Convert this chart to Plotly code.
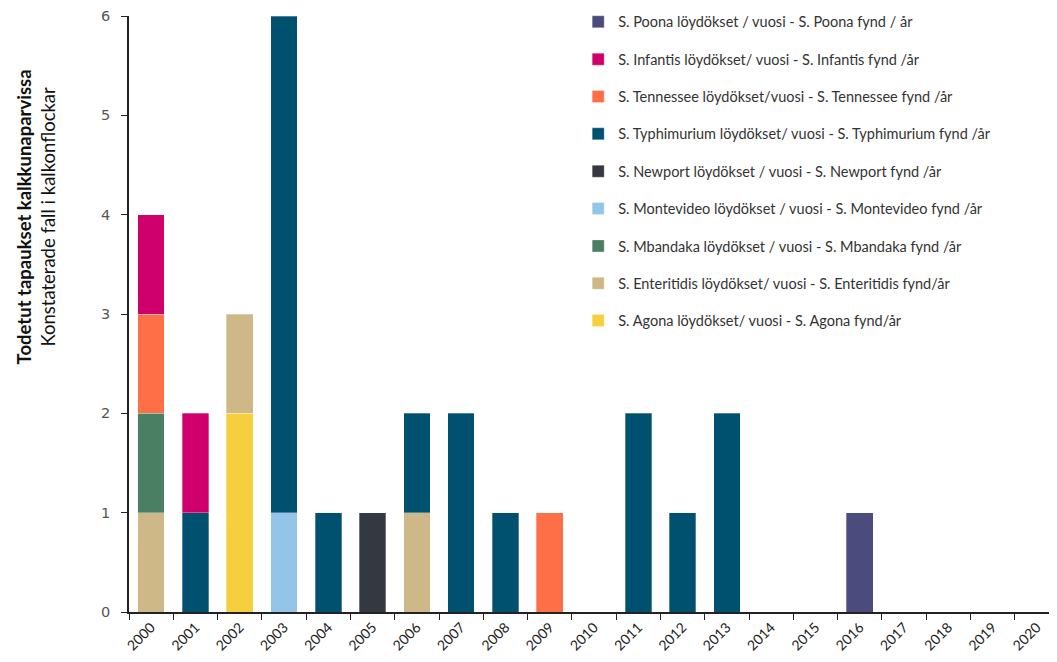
import plotly.graph_objects as go

years = [str(y) for y in range(2000, 2021)]

# values per serovar, years 2000..2020
agona       = [0,0,2,0,0,0,0,0,0,0,0,0,0,0,0,0,0,0,0,0,0]
enteritidis = [1,0,1,0,0,0,1,0,0,0,0,0,0,0,0,0,0,0,0,0,0]
mbandaka    = [1,0,0,0,0,0,0,0,0,0,0,0,0,0,0,0,0,0,0,0,0]
montevideo  = [0,0,0,1,0,0,0,0,0,0,0,0,0,0,0,0,0,0,0,0,0]
newport     = [0,0,0,0,0,1,0,0,0,0,0,0,0,0,0,0,0,0,0,0,0]
typhimurium = [0,1,0,5,1,0,1,2,1,0,0,2,1,2,0,0,0,0,0,0,0]
tennessee   = [1,0,0,0,0,0,0,0,0,1,0,0,0,0,0,0,0,0,0,0,0]
infantis    = [1,1,0,0,0,0,0,0,0,0,0,0,0,0,0,0,0,0,0,0,0]
poona       = [0,0,0,0,0,0,0,0,0,0,0,0,0,0,0,0,1,0,0,0,0]

names = [
    "S. Agona löydökset/ vuosi - S. Agona fynd/år",
    "S. Enteritidis löydökset/ vuosi - S. Enteritidis fynd/år",
    "S. Mbandaka löydökset / vuosi - S. Mbandaka fynd /år",
    "S. Montevideo löydökset / vuosi - S. Montevideo fynd /år",
    "S. Newport löydökset / vuosi - S. Newport fynd /år",
    "S. Typhimurium löydökset/ vuosi - S. Typhimurium fynd /år",
    "S. Tennessee löydökset/vuosi - S. Tennessee fynd /år",
    "S. Infantis löydökset/ vuosi - S. Infantis fynd /år",
    "S. Poona löydökset / vuosi - S. Poona fynd / år",
]
series = [agona, enteritidis, mbandaka, montevideo, newport, typhimurium, tennessee, infantis, poona]
colors = ["#F6CE3E", "#CFB887", "#4B7F63", "#93C5E8", "#343840", "#00506F", "#FF6F47", "#CF006B", "#4B4B7E"]

fig = go.Figure()
n = len(series)
for i, (nm, vals, col) in enumerate(zip(names, series, colors)):
    fig.add_trace(go.Bar(
        x=years, y=[v if v else None for v in vals], name=nm,
        marker=dict(color=col, line=dict(color="rgba(255,255,255,0.6)", width=0.5)),
        legendgroup=str(i), legendrank=1000 + (n - i),
    ))

fig.update_layout(
    barmode="stack",
    bargap=0.4,
    width=1057, height=662,
    margin=dict(l=121, r=6, t=8, b=58, autoexpand=False),
    plot_bgcolor="white", paper_bgcolor="white",
    font=dict(family="Lato", color="#222"),
    legend=dict(
        x=0.483, y=1.017, xanchor="left", yanchor="top",
        traceorder="grouped", tracegroupgap=15.5,
        font=dict(family="Lato", size=14.5, color="#333"),
        bgcolor="rgba(0,0,0,0)",
    ),
    showlegend=True,
)
fig.update_xaxes(
    type="category", tickson="boundaries", ticks="outside", ticklen=6,
    tickcolor="#222", showline=True, linecolor="#222", linewidth=1.5,
    tickangle=-45, tickfont=dict(family="Lato", size=14, color="#222"),
    showgrid=False,
)
fig.update_yaxes(
    range=[0, 6], dtick=1, ticks="outside", ticklen=6, tickcolor="#222",
    showline=True, linecolor="#222", linewidth=1.5, showgrid=False,
    zeroline=False, ticklabelstandoff=8,
    tickfont=dict(family="DejaVu Sans", size=14.5, color="#555"),
)
fig.add_annotation(
    xref="paper", yref="paper", x=-0.1, y=0.662, xanchor="center", yanchor="middle",
    textangle=-90, showarrow=False, align="center",
    text="<b>Todetut tapaukset kalkkunaparvissa</b><br>Konstaterade fall i kalkonflockar",
    font=dict(family="Lato", size=18.5, color="#111"),
)
fig.write_html("out.html")
